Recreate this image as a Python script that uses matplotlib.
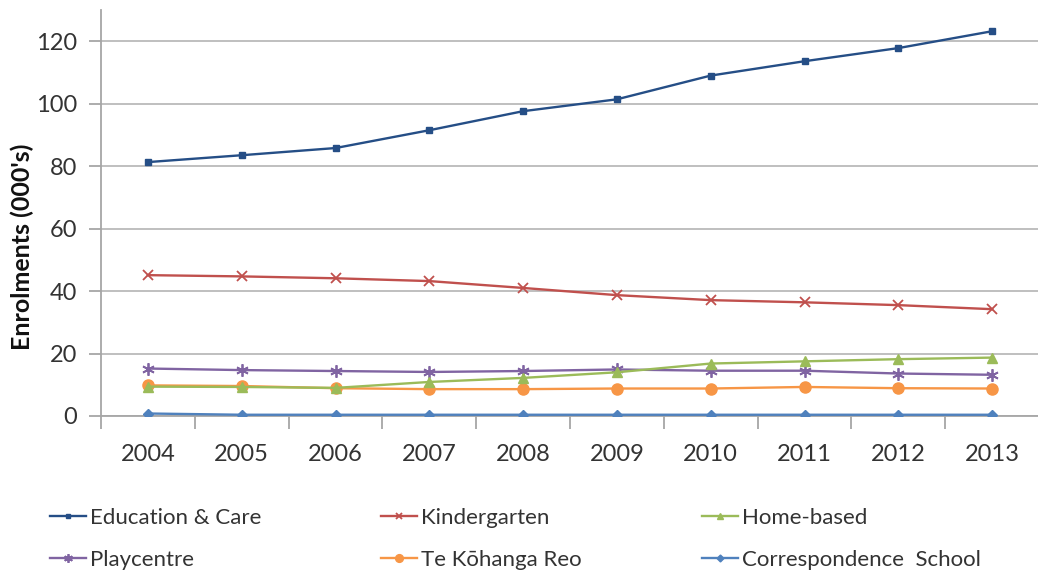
import matplotlib
matplotlib.use("Agg")
import matplotlib.pyplot as plt
import numpy as np

years = ["2004", "2005", "2006", "2007", "2008", "2009", "2010", "2011", "2012", "2013"]
education_care = [81.3, 83.5, 85.8, 91.5, 97.6, 101.4, 109.0, 113.6, 117.8, 123.2]
kindergarten = [45.1, 44.7, 44.1, 43.2, 41.0, 38.7, 37.1, 36.4, 35.5, 34.2]
home_based = [9.4, 9.3, 9.0, 10.9, 12.2, 14.0, 16.8, 17.5, 18.2, 18.7]
playcentre = [15.2, 14.7, 14.4, 14.1, 14.4, 14.9, 14.5, 14.5, 13.6, 13.2]
te_kohanga = [9.8, 9.6, 8.9, 8.6, 8.6, 8.8, 8.8, 9.3, 8.9, 8.8]
correspondence = [0.8, 0.4, 0.4, 0.4, 0.4, 0.4, 0.4, 0.4, 0.4, 0.4]

series = [
    ("Education & Care", education_care, "#254E86", "s", 5),
    ("Kindergarten", kindergarten, "#C0504D", "x", 7),
    ("Home-based", home_based, "#9BBB59", "^", 7),
    ("Playcentre", playcentre, "#8064A2", (6, 2, 0), 9),
    ("Te K\u014dhanga Reo", te_kohanga, "#F79646", "o", 8),
    ("Correspondence  School", correspondence, "#4F81BD", "D", 5),
]

plt.rcParams["font.family"] = ["Lato", "DejaVu Sans"]

fig = plt.figure(figsize=(10.38, 5.71), dpi=100)
ax = fig.add_axes([101 / 1038, 1 - 416 / 571, 938 / 1038, (416 - 10) / 571])

x = np.arange(len(years))
for name, vals, color, marker, ms in series[::-1]:
    mew = 1.3 if marker in ("x", (6, 2, 0)) else 1.0
    ax.plot(x, vals, color=color, lw=1.7, marker=marker, ms=ms,
            markeredgewidth=mew, markerfacecolor=color, markeredgecolor=color,
            label=name, zorder=3)

ax.set_xlim(-0.5, len(years) - 0.5)
ax.set_ylim(0, 130)
ax.set_yticks(np.arange(0, 121, 20))
ax.set_xticks(x)
ax.set_xticklabels(years)
ax.set_xticks(np.arange(-0.5, len(years), 1.0), minor=True)
ax.tick_params(axis="x", which="major", length=0, pad=20, labelsize=17, labelcolor="#333333")
ax.tick_params(axis="x", which="minor", length=9, width=1.3, color="#A6A6A6", direction="out")
ax.tick_params(axis="y", which="major", length=9, width=1.3, color="#A6A6A6", direction="out",
               labelsize=17, labelcolor="#333333", pad=8)

ax.grid(axis="y", color="#BFBFBF", lw=1.4, zorder=0)
ax.set_axisbelow(True)
for s in ["top", "right"]:
    ax.spines[s].set_visible(False)
for s in ["left", "bottom"]:
    ax.spines[s].set_color("#A6A6A6")
    ax.spines[s].set_linewidth(1.3)

ax.set_ylabel("Enrolments (000's)", fontsize=18, fontweight="bold", color="#111111",
              va="center", ha="center")
ax.yaxis.set_label_coords((22 - 101) / 938, (416 - 247) / 406)

handles, labels = ax.get_legend_handles_labels()
order = {lab: h for h, lab in zip(handles, labels)}
names = [s[0] for s in series]
col_order = [names[0], names[3], names[1], names[4], names[2], names[5]]
leg = fig.legend([order[n] for n in col_order], col_order, ncol=3, loc="lower left",
                 bbox_to_anchor=(30 / 1038, -0.033), frameon=False, fontsize=16,
                 handlelength=1.6, handletextpad=0.2, columnspacing=5.4,
                 labelspacing=1.0, markerscale=0.7)
for t in leg.get_texts():
    t.set_color("#333333")

fig.savefig("out.png", dpi=100)
